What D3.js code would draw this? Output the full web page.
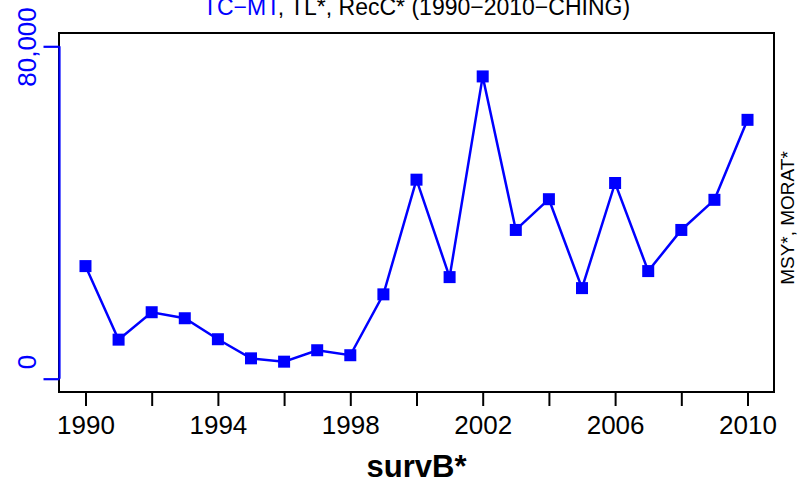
<!DOCTYPE html>
<html><head><meta charset="utf-8">
<script src="https://cdn.jsdelivr.net/npm/d3@7"></script>
<style>body{margin:0;background:#fff} text{font-family:"Liberation Sans",Arial,Helvetica,sans-serif}</style>
</head><body><svg id="c" width="799" height="489"></svg>
<script>
const years = [1990,1991,1992,1993,1994,1995,1996,1997,1998,1999,2000,2001,2002,2003,2004,2005,2006,2007,2008,2009,2010];
const values = [27100,9400,16000,14550,9500,4900,4100,6850,5650,20300,47900,24450,72750,35800,43200,21800,47100,25900,35800,43050,62300];
const xTicks = [1990,1992,1994,1996,1998,2000,2002,2004,2006,2008,2010];
const xTickLabels = [1990,1994,1998,2002,2006,2010];
const yTicks = [0,80000];
const yTickLabels = ["0","80,000"];
const titleParts = [["TC\u2212MT","#0000ff"],[", TL*, RecC* (1990\u22122010\u2212CHING)","#000"]];
const xLabel = "survB*";
const rightLabel = "MSY*, MORAT*";

const svg = d3.select("#c");
const x = d3.scaleLinear().domain([1989.2, 2010.8]).range([59, 774]);
const y = d3.scaleLinear().domain([-3200, 83200]).range([392, 33]);
const blue = "#0000ff";

// box
svg.append("rect").attr("x",59).attr("y",33).attr("width",715).attr("height",359)
  .attr("fill","none").attr("stroke","#000").attr("stroke-width",2);

// x axis
const xa = svg.append("g").attr("transform","translate(0,392)")
  .call(d3.axisBottom(x).tickValues(xTicks).tickSize(14).tickFormat(d => xTickLabels.includes(d) ? String(d) : ""));
xa.select(".domain").remove();
xa.selectAll("line").attr("stroke","#000").attr("stroke-width",2);
xa.selectAll("text").attr("font-size",26).attr("fill","#000").attr("dy",null).attr("y",42)
  .style("font-family","'Liberation Sans',Arial,sans-serif");

// y axis
const ya = svg.append("g").attr("transform","translate(59.5,0)")
  .call(d3.axisLeft(y).tickValues(yTicks).tickSize(16).tickFormat(""));
ya.select(".domain").attr("stroke",blue).attr("stroke-width",2.2).attr("d",`M0,${y(0)}V${y(80000)}`);
ya.selectAll("line").attr("stroke",blue).attr("stroke-width",2.2);
const yLabelPos = [362, 47];
yTicks.forEach((t,i)=>{
  svg.append("text").attr("transform",`translate(36,${yLabelPos[i]}) rotate(-90)`)
    .attr("text-anchor","middle").attr("font-size",26).attr("fill",blue).text(yTickLabels[i]);
});

// line + points
const line = d3.line().x((d,i)=>x(years[i])).y(d=>y(d));
svg.append("path").datum(values).attr("d",line).attr("fill","none").attr("stroke",blue).attr("stroke-width",2.5);
svg.selectAll("rect.pt").data(values).enter().append("rect").attr("class","pt")
  .attr("x",(d,i)=>x(years[i])-6).attr("y",d=>y(d)-6).attr("width",12).attr("height",12).attr("fill",blue);

// title
const tt = svg.append("text").attr("x",416.5).attr("y",15).attr("text-anchor","middle").attr("font-size",23);
titleParts.forEach(p=>tt.append("tspan").attr("fill",p[1]).text(p[0]));

// x label
svg.append("text").attr("x",416.5).attr("y",477).attr("text-anchor","middle").attr("font-size",31)
  .attr("font-weight","bold").text(xLabel);

// right label
svg.append("text").attr("transform","translate(794,218) rotate(-90)").attr("text-anchor","middle")
  .attr("font-size",19).text(rightLabel);
</script></body></html>
